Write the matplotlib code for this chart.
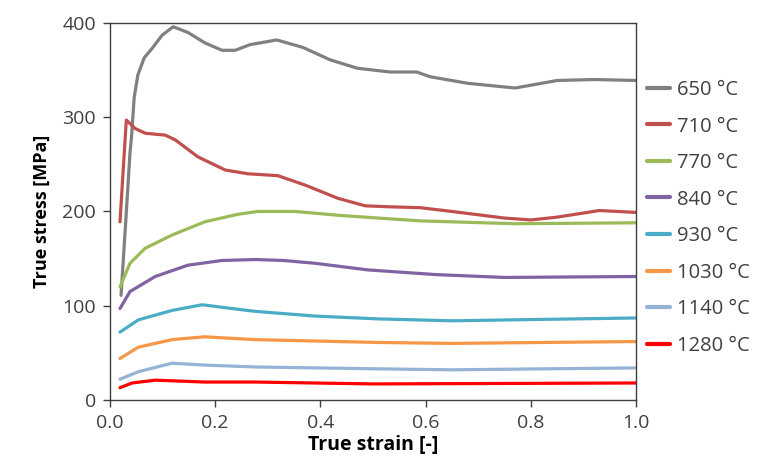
import matplotlib.pyplot as plt

plt.rcParams["font.family"] = ["Open Sans", "DejaVu Sans"]

# data (true strain, true stress in MPa)
strain_650 = [0.021, 0.03, 0.038, 0.041, 0.046, 0.053, 0.065, 0.08, 0.099, 0.12, 0.148, 0.18, 0.213, 0.238,
              0.266, 0.317, 0.367, 0.418, 0.47, 0.532, 0.583, 0.608, 0.68, 0.77, 0.85, 0.92, 1.0]
stress_650 = [111, 190, 262, 280, 321, 345, 363, 373, 387, 396, 390, 379, 371, 371,
              377, 382, 374, 361, 352, 348, 348, 343, 336, 331, 339, 340, 339]

strain_710 = [0.019, 0.031, 0.048, 0.067, 0.105, 0.124, 0.167, 0.219, 0.262, 0.319, 0.371, 0.433, 0.485,
              0.529, 0.59, 0.65, 0.75, 0.80, 0.85, 0.93, 1.0]
stress_710 = [189, 297, 288, 283, 281, 276, 258, 244, 240, 238, 228, 214, 206,
              205, 204, 200, 193, 191, 194, 201, 199]

strain_770 = [0.019, 0.038, 0.067, 0.118, 0.18, 0.243, 0.281, 0.352, 0.433, 0.51, 0.59, 0.77, 1.0]
stress_770 = [120, 145, 161, 175, 189, 197, 200, 200, 196, 193, 190, 187, 188]

strain_840 = [0.019, 0.038, 0.086, 0.148, 0.213, 0.276, 0.33, 0.39, 0.49, 0.62, 0.75, 1.0]
stress_840 = [97, 115, 131, 143, 148, 149, 148, 145, 138, 133, 130, 131]

strain_930 = [0.019, 0.054, 0.118, 0.175, 0.232, 0.276, 0.39, 0.51, 0.65, 1.0]
stress_930 = [72, 85, 95, 101, 97, 94, 89, 86, 84, 87]

strain_1030 = [0.019, 0.054, 0.118, 0.18, 0.276, 0.51, 0.65, 1.0]
stress_1030 = [44, 56, 64, 67, 64, 61, 60, 62]

strain_1140 = [0.019, 0.054, 0.118, 0.18, 0.276, 0.51, 0.65, 1.0]
stress_1140 = [22, 30, 39, 37, 35, 33, 32, 34]

strain_1280 = [0.019, 0.042, 0.086, 0.18, 0.276, 0.5, 1.0]
stress_1280 = [13, 18, 21, 19, 19, 17, 18]

labels = ["650 °C", "710 °C", "770 °C", "840 °C", "930 °C", "1030 °C", "1140 °C", "1280 °C"]
colors = ["#808080", "#c0504d", "#9bbb59", "#8064a2", "#4bacc6", "#f79646", "#95b3d7", "#ff0000"]

series = [
    (strain_650, stress_650), (strain_710, stress_710), (strain_770, stress_770),
    (strain_840, stress_840), (strain_930, stress_930), (strain_1030, stress_1030),
    (strain_1140, stress_1140), (strain_1280, stress_1280),
]

fig = plt.figure(figsize=(7.57, 4.75), dpi=100)
ax = fig.add_axes([0.1453, 0.158, 0.695, 0.7936])

for (x, y), lab, c in zip(series, labels, colors):
    ax.plot(x, y, color=c, lw=2.3, label=lab, solid_capstyle="round", solid_joinstyle="round")

ax.set_xlim(0, 1.0)
ax.set_ylim(0, 400)
ax.set_xticks([0.0, 0.2, 0.4, 0.6, 0.8, 1.0])
ax.set_xticklabels(["0.0", "0.2", "0.4", "0.6", "0.8", "1.0"])
ax.set_yticks([0, 100, 200, 300, 400])

for s in ax.spines.values():
    s.set_color("#404040")
    s.set_linewidth(1.0)
ax.tick_params(direction="out", length=5, width=1.0, color="#404040",
               labelsize=14, labelcolor="#404040", pad=5)

ax.set_xlabel("True strain [-]", fontsize=14, fontweight="bold", labelpad=2)
ax.set_ylabel("True stress [MPa]", fontsize=13, fontweight="bold", labelpad=8)

leg = fig.legend(loc="upper left", bbox_to_anchor=(647 / 757, (475 - 80) / 475),
                 bbox_transform=fig.transFigure, frameon=False,
                 fontsize=14.5, handlelength=1.15, handletextpad=0.35, labelspacing=0.82,
                 labelcolor="#404040", borderaxespad=0, borderpad=0)
for ln in leg.get_lines():
    ln.set_linewidth(3.0)

fig.savefig("out.png", dpi=100)
